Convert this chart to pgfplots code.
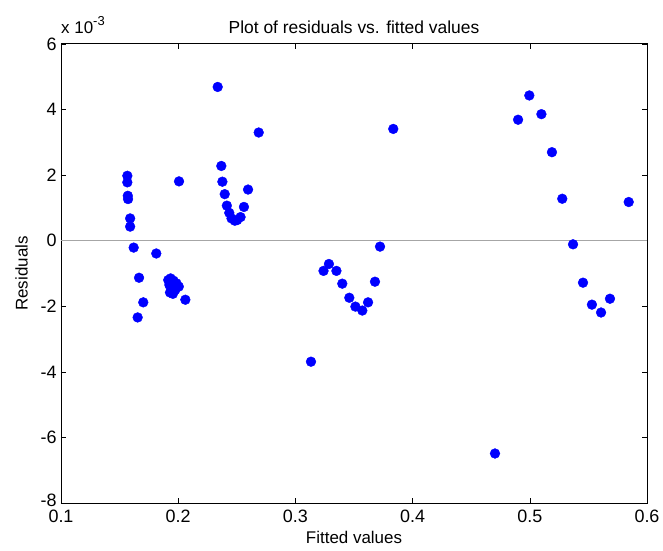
\documentclass[border=0pt]{standalone}
\usepackage{fontspec}
\setmainfont{Liberation Sans}
\usepackage{pgfplots}
\pgfplotsset{compat=1.18}

\definecolor{dotblue}{RGB}{0,0,255}

\begin{document}
\begin{tikzpicture}
\path[use as bounding box] (-61bp,-48bp) rectangle (602bp,503bp);
\begin{axis}[
    name=ax,
    scale only axis,
    width=586bp, height=459bp,
    xmin=0.1, xmax=0.6, ymin=-8, ymax=6,
    xtick={0.1,0.2,0.3,0.4,0.5,0.6},
    ytick={-8,-6,-4,-2,0,2,4,6},
    xticklabels={0.1,0.2,0.3,0.4,0.5,0.6},
    yticklabels={\raisebox{5bp}{-8},-6,-4,-2,0,2,4,6},
    tick align=inside,
    major tick length=5bp,
    axis line style={line width=1pt},
    tick style={line width=0.6pt, black},
    /pgf/number format/assume math mode=true,
    tick label style={font=\fontsize{18}{21}\selectfont},
    xticklabel style={yshift=-3bp},
    yticklabel style={xshift=-1bp},
    title={Plot of residuals vs. fitted values},
    title style={font=\fontsize{17.5}{21}\selectfont, yshift=1bp},
    xlabel={Fitted values},
    ylabel={Residuals},
    label style={font=\fontsize{17}{20}\selectfont},
    xlabel style={yshift=-2bp},
    ylabel style={yshift=6bp},
]
\addplot[gray!70, line width=0.6pt, forget plot] coordinates {(0.1,0) (0.6,0)};
\addplot[only marks, mark=*, mark size=4.9bp, dotblue, mark options={draw=dotblue, fill=dotblue}] coordinates {
(0.1566,1.98) (0.1566,1.78) (0.1570,1.37) (0.1572,1.27) (0.1590,0.68) (0.1590,0.43)
(0.1620,-0.21) (0.1666,-1.13) (0.1654,-2.34) (0.1702,-1.88) (0.1813,-0.39)
(0.1915,-1.20) (0.1935,-1.15) (0.1960,-1.22) (0.1985,-1.30) (0.2005,-1.40)
(0.1925,-1.35) (0.1945,-1.48) (0.1930,-1.58) (0.1955,-1.62) (0.1975,-1.50)
(0.2061,-1.80) (0.2007,1.81)
(0.2337,4.69) (0.2368,2.28) (0.2377,1.80) (0.2397,1.42) (0.2415,1.07) (0.2436,0.85)
(0.2455,0.68) (0.2483,0.61) (0.2503,0.63) (0.2532,0.72) (0.2561,1.03) (0.2596,1.56)
(0.2687,3.30)
(0.3133,-3.69) (0.3240,-0.92) (0.3286,-0.71) (0.3350,-0.92) (0.3400,-1.31)
(0.3460,-1.74) (0.3512,-2.01) (0.3571,-2.13) (0.3620,-1.88) (0.3679,-1.25)
(0.3722,-0.18) (0.3835,3.41)
(0.4703,-6.49) (0.4900,3.69) (0.4996,4.43) (0.5099,3.86) (0.5189,2.70) (0.5277,1.28)
(0.5369,-0.11) (0.5454,-1.28) (0.5530,-1.95) (0.5608,-2.19) (0.5684,-1.77) (0.5844,1.18)
};
\end{axis}
\node[anchor=base west, font=\fontsize{17}{20}\selectfont, inner sep=0pt] at ([xshift=0bp, yshift=10bp]ax.north west) {x 10\raisebox{8bp}{\fontsize{13}{15}\selectfont -3}};
\end{tikzpicture}
\end{document}
